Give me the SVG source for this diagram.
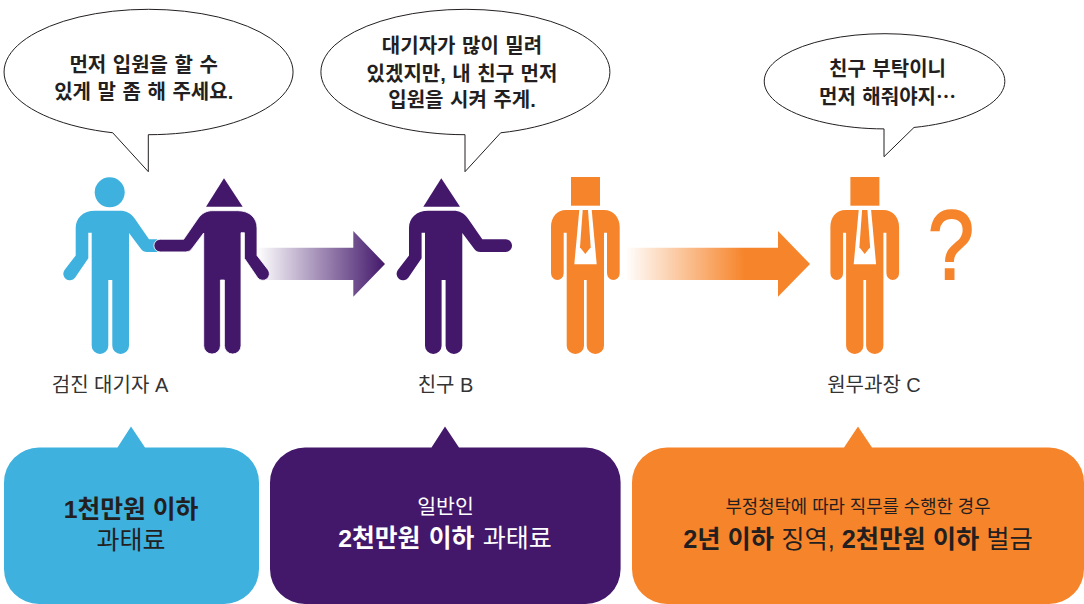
<svg xmlns="http://www.w3.org/2000/svg" width="1084" height="604" viewBox="0 0 1084 604">
<style>
text{font-family:"Liberation Sans","Noto Sans CJK KR",sans-serif;text-anchor:middle;fill:#231f20}
.say{font-size:20px;font-weight:700;word-spacing:1px}
.lab{font-size:20px;fill:#333;font-weight:400}
.bub{fill:#fff;stroke:#231f20;stroke-width:1;stroke-linejoin:miter}
.big{font-size:24.8px;font-weight:700}
.mid{font-size:25px;font-weight:400}
.sm{font-size:17.8px;font-weight:400}
.w,.w tspan{fill:#fff}
.blue{fill:#3eb1df}.pur{fill:#43186b}.org{fill:#f6842a}
</style>
<defs>
<linearGradient id="gp" gradientUnits="userSpaceOnUse" x1="257" y1="0" x2="385" y2="0"><stop offset="0" stop-color="#fff"/><stop offset="1" stop-color="#43186b"/></linearGradient>
<linearGradient id="go" gradientUnits="userSpaceOnUse" x1="625" y1="0" x2="745" y2="0"><stop offset="0" stop-color="#fff"/><stop offset="1" stop-color="#f6842a"/></linearGradient>
<path id="long" d="M95,210.7C83,210.7 75.7,218 75.7,228V255.5L64.7,269.7A6.5,6.5 0 0 0 75,277.8L88.3,258.3V232.7H91.7V345.7A8.3,8.3 0 0 0 108.3,345.7V280H112.3V345.7A8.35,8.3 0 0 0 129,345.7V233L141,249Q143,251.9 147,251.9H172.5A6.3,6.3 0 0 0 172.5,239.3H149L135,219C131,213 126,210.7 120,210.7Z"/>
<g id="suit">
<rect x="571" y="177" width="29" height="28.7" class="org"/>
<path class="org" d="M566,210C557,210 551,217 551,227V273A6.35,7 0 0 0 563.7,273V232.7H566.7V345.7A8.65,8.3 0 0 0 584,345.7V280H586.7V345.7A8.65,8.3 0 0 0 604,345.7V232.7H607V273A6.35,7 0 0 0 619.7,273V227C619.7,217 613,210 604,210Z"/>
<path fill="#fff" d="M579.3,210L574.3,264.3H596.7L591.7,210Z"/>
<path class="org" d="M582.7,210H588L590.7,247.3L585.3,254L580,247.3Z"/>
</g>
</defs>
<g id="connectors">
<path fill="url(#gp)" d="M257,247.7H353.3V231L385,264L353.3,296.7V280H257Z"/>
<path fill="url(#go)" d="M627,247.7H778V231L810,264L778,296.7V280H627Z"/>
</g>
<g id="bubble-a">
<path class="bub" d="M112.7,132.74A144.5,62.7 0 1 1 148.3,134.7V171.7Z"/>
<text class="say" x="143.7" y="72">먼저 입원을 할 수</text>
<text class="say" x="143.7" y="99">있게 말 좀 해 주세요.</text>
</g>
<g id="bubble-b">
<path class="bub" d="M465,134.7V171.7L500.7,132.8A144.5,62.7 0 1 0 465,134.7Z"/>
<text class="say" x="462" y="53">대기자가 많이 밀려</text>
<text class="say" x="462" y="81">있겠지만, 내 친구 먼저</text>
<text class="say" x="462" y="107">입원을 시켜 주게.</text>
</g>
<g id="bubble-c">
<path class="bub" d="M884,128.9V156.7L914,127.45A120.3,47.6 0 1 0 884,128.9Z"/>
<text class="say" x="887.5" y="76">친구 부탁이니</text>
<text class="say" x="887.5" y="104">먼저 해줘야지<tspan font-family="Noto Sans CJK JP">…</tspan></text>
</g>
<g id="person-a">
<circle cx="109.7" cy="192.3" r="15" class="blue"/>
<path class="blue" d="M95,210.7C83,210.7 75.7,218 75.7,228V255.5L64.7,269.7A6.5,6.5 0 0 0 75,277.8L88.3,258.3V232.7H91.7V345.7A8.3,8.3 0 0 0 108.3,345.7V280H112.3V345.7A8.35,8.3 0 0 0 129,345.7V233L141,249Q143,251.9 147,251.9H157V239.3H149L135,219C131,213 126,210.7 120,210.7Z"/>
<text class="lab" x="110" y="392">검진 대기자 A</text>
</g>
<g id="person-a2">
<path class="pur" d="M224,178.3L242.7,206.7H206Z"/>
<use href="#long" class="pur" stroke="#fff" stroke-width="0.8" transform="matrix(-1 0 0 1 332.7 0)"/>
</g>
<g id="person-b">
<path class="pur" d="M441.3,178.3L460,206.7H423.3Z"/>
<use href="#long" class="pur" transform="translate(333.3 0)"/>
<text class="lab" x="445.5" y="392">친구 B</text>
</g>
<g id="person-c1"><use href="#suit"/></g>
<g id="person-c2">
<use href="#suit" transform="translate(279.4 0)"/>
<text transform="translate(951 279) scale(.88 1.04)" font-size="94" style="fill:#f6842a;stroke:#f6842a;stroke-width:2">?</text>
<text class="lab" x="874" y="392">원무과장 C</text>
</g>
<g id="box-a">
<path class="blue" d="M39,447.5H117.5L131,426.5L145,447.5H224A35,35 0 0 1 259,482.5V569A35,35 0 0 1 224,604H39A35,35 0 0 1 4,569V482.5A35,35 0 0 1 39,447.5Z"/>
<text class="big" x="131" y="518">1천만원 이하</text>
<text class="mid" x="131" y="549">과태료</text>
</g>
<g id="box-b">
<path class="pur" d="M305,447.5H431.5L445,426.5L459,447.5H585.6A35,35 0 0 1 620.6,482.5V569A35,35 0 0 1 585.6,604H305A35,35 0 0 1 270,569V482.5A35,35 0 0 1 305,447.5Z"/>
<text class="mid w" style="font-size:20.5px" x="445.5" y="514">일반인</text>
<text class="big w" x="445" y="547" word-spacing="1.5">2천만원 이하 <tspan class="mid">과태료</tspan></text>
</g>
<g id="box-c">
<path class="org" d="M667,447.5H844L858,426.5L872,447.5H1049A35,35 0 0 1 1084,482.5V569A35,35 0 0 1 1049,604H667A35,35 0 0 1 632,569V482.5A35,35 0 0 1 667,447.5Z"/>
<text class="sm" x="858" y="513">부정청탁에 따라 직무를 수행한 경우</text>
<text class="big" style="font-size:25.3px" x="858" y="548">2년 이하 <tspan class="mid" style="font-size:25.3px">징역,</tspan> 2천만원 이하 <tspan class="mid" style="font-size:25.3px">벌금</tspan></text>
</g>
</svg>
